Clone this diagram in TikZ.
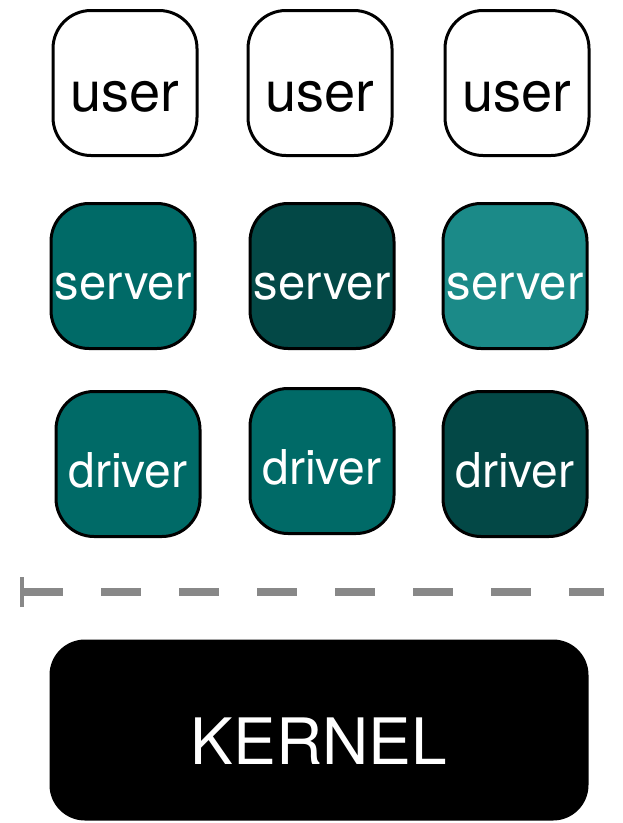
\documentclass[tikz,border=0pt]{standalone}
\usepackage{fontspec}
\setmainfont{TeX Gyre Heros}
\usetikzlibrary{arrows.meta,positioning}
\definecolor{tealmid}{HTML}{006A67}
\definecolor{tealdark}{HTML}{034846}
\definecolor{teallight}{HTML}{1B8A88}
\definecolor{sepgray}{HTML}{888888}

\begin{document}
\begin{tikzpicture}[
    x=1pt, y=-1pt,
    proc/.style={draw, line width=3pt, rounded corners=38pt, minimum width=144pt, minimum height=145pt, inner sep=0pt, text depth=0pt},
    userbox/.style={proc, fill=white, text height=56pt, font=\fontsize{56}{60}\selectfont},
    srv/.style={proc, text=white, text height=46pt, font=\fontsize{49}{54}\selectfont},
    drv/.style={proc, text=white, text height=46pt, font=\fontsize{48}{54}\selectfont},
    kern/.style={draw, fill=black, line width=3pt, rounded corners=34pt, minimum width=536pt, minimum height=178pt, text=white, text height=68pt, text depth=0pt, font=\fontsize{64}{70}\selectfont},
    sep/.style={draw=sepgray, line width=8pt, dash pattern=on 40pt off 38pt, {Bar[width=30pt,line width=4pt]}-}
]
\useasboundingbox (0,0) rectangle (623,823);
% user processes
\node[userbox] (user1) at (125,83) {user};
\node[userbox] (user2) at (320,83) {user};
\node[userbox] (user3) at (517,83) {user};
% servers
\node[srv, fill=tealmid] (srv1) at (123,276) {server};
\node[srv, fill=tealdark] (srv2) at (322,276) {server};
\node[srv, fill=teallight] (srv3) at (515,276) {server};
% drivers
\node[drv, fill=tealmid] (drv1) at (128,464) {driver};
\node[drv, fill=tealmid] (drv2) at (322,461) {driver};
\node[drv, fill=tealdark] (drv3) at (515,464) {driver};
% kernel boundary
\coordinate (bndL) at (20,592);
\coordinate (bndR) at (604,592);
\draw[sep] (bndL) -- (bndR);
\node[kern] (kernel) at (319,730) {KERNEL};
\end{tikzpicture}
\end{document}
